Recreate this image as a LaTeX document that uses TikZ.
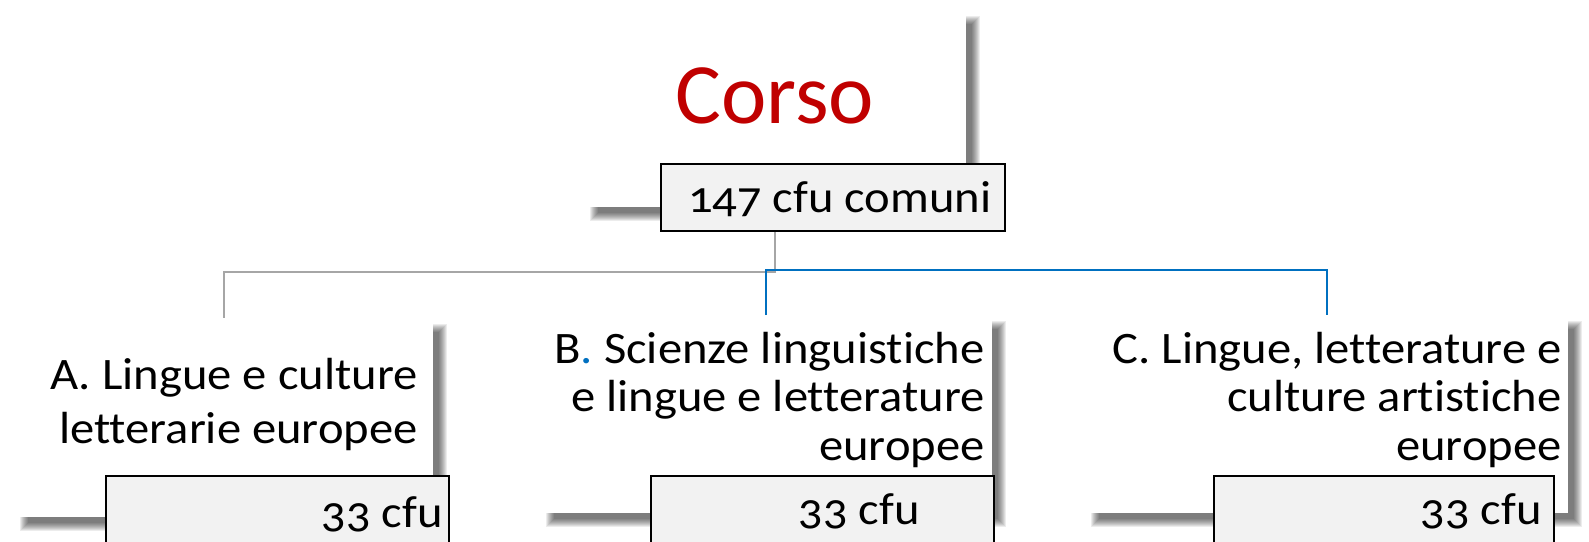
\documentclass[tikz,border=0pt]{standalone}
\usepackage{fontspec}
\setmainfont{Carlito}[Numbers=OldStyle, FakeStretch=1.08, RawFeature={+onum;-liga}]
\newfontfamily\titlefont{Carlito}[RawFeature={-liga}]
\usetikzlibrary{calc}
\definecolor{corsored}{HTML}{C00000}
\definecolor{connblue}{HTML}{0070C0}
\definecolor{conngrey}{HTML}{A6A6A6}
\definecolor{labfill}{HTML}{F2F2F2}
\newcommand\softshadow[4]{%
  \foreach \e in {-4,...,4}{%
    \fill[black,opacity=0.075] ({#1+10-\e},{#2+10-\e}) rectangle ({#3+10+\e},{#4+10+\e});
  }%
}
\tikzset{
  boxsize/.style 2 args={minimum width=#1*0.5pt, minimum height=#2*0.5pt},
  whitebox/.style={fill=white, draw=none, inner sep=0pt, anchor=north west},
  labbox/.style={fill=labfill, draw=black, line width=1pt, inner sep=0pt, anchor=north west},
  bodytext/.style={inner sep=0pt, anchor=base east, font=\fontsize{22.5pt}{26pt}\selectfont},
  conn/.style={line width=1pt},
}
\begin{document}
\begin{tikzpicture}[x=0.5pt, y=-0.5pt]
\useasboundingbox (0,0) rectangle (1589,541);
\clip (0,0) rectangle (1589,541);
\fill[white] (0,0) rectangle (1589,541);

% shadows
\softshadow{584}{10}{966}{207}
\softshadow{14}{318}{433}{517}
\softshadow{540}{315}{992}{513}
\softshadow{1085}{315}{1568}{513}

% white boxes
\node[whitebox, boxsize={382}{197}] (top) at (584,10) {};
\node[whitebox, boxsize={419}{199}] (A) at (14,318) {};
\node[whitebox, boxsize={452}{198}] (B) at (540,315) {};
\node[whitebox, boxsize={483}{198}] (C) at (1085,315) {};

% connectors
\coordinate (jg) at (0,272);
\coordinate (jb) at (0,270);
\draw[conn, conngrey] (top.south) -- (top.south |- jg) -| (A.north);
\draw[conn, connblue] (B.north) -- (B.north |- jb) -| (C.north);

% label boxes
\node[labbox, boxsize={344}{67}] (lab0) at (660,163) {};
\node[labbox, boxsize={343}{80}] (labA) at (105,475) {};
\node[labbox, boxsize={343}{80}] (labB) at (650,475) {};
\node[labbox, boxsize={340}{80}] (labC) at (1213,475) {};

% texts
\node[inner sep=0pt, anchor=base, text=corsored, font=\titlefont\fontsize{43pt}{52pt}\selectfont] (tcorso) at (775,123) {Corso};
\node[bodytext] (t0) at (992,212) {147 cfu comuni};
\node[bodytext] (tA) at (418,389) {\parbox[t]{400pt}{\raggedleft\fontsize{22.5pt}{27pt}\selectfont A. Lingue e culture\\letterarie europee}};
\node[bodytext] (tB) at (985,363) {\parbox[t]{400pt}{\raggedleft\fontsize{22.5pt}{24.25pt}\selectfont B{\color{connblue}.} Scienze linguistiche\\e lingue e letterature\\europee}};
\node[bodytext] (tC) at (1562,363) {\parbox[t]{400pt}{\raggedleft\fontsize{22.5pt}{24.25pt}\selectfont C. Lingue, letterature e\\culture artistiche\\europee}};
\node[bodytext] (cA) at (443,527) {33 cfu};
\node[bodytext] (cB) at (920,524) {33 cfu};
\node[bodytext] (cC) at (1542,524) {33 cfu};
\end{tikzpicture}
\end{document}
